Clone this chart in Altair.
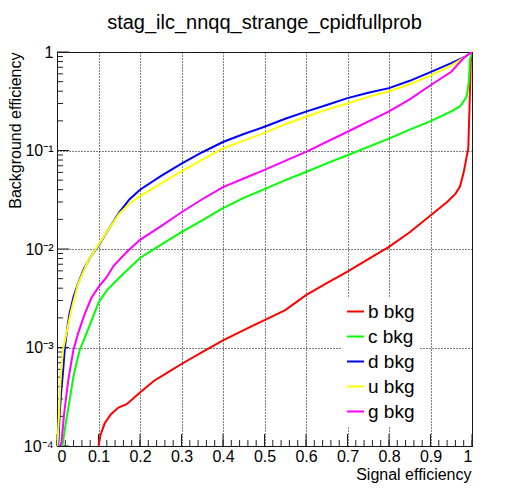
import altair as alt
import pandas as pd

# ---- data (signal efficiency vs background efficiency) ----
series_names = ["b bkg", "c bkg", "d bkg", "u bkg", "g bkg"]
series_colors = ["#ff0000", "#00ff00", "#0000ff", "#ffff00", "#ff00ff"]

b_x = [0.1, 0.105, 0.115, 0.13, 0.148, 0.168, 0.2, 0.234, 0.27, 0.3, 0.354, 0.4, 0.45, 0.5,
       0.55, 0.6, 0.65, 0.7, 0.75, 0.8, 0.85, 0.9, 0.94, 0.96, 0.971, 0.98, 0.987, 0.991,
       0.994, 0.997, 1.0]
b_y = [0.0001, 0.00013, 0.00017, 0.00021, 0.000246, 0.000266, 0.00035, 0.00046, 0.00057,
       0.00068, 0.00092, 0.00118, 0.0015, 0.0019, 0.0024, 0.0034, 0.0045, 0.0059, 0.0079,
       0.0105, 0.0148, 0.0219, 0.030, 0.0363, 0.043, 0.060, 0.086, 0.105, 0.27, 0.8, 1.0]

c_x = [0.013, 0.017, 0.022, 0.027, 0.033, 0.039, 0.047, 0.055, 0.067, 0.083, 0.1, 0.12, 0.15,
       0.2, 0.25, 0.3, 0.35, 0.4, 0.45, 0.5, 0.55, 0.6, 0.65, 0.7, 0.75, 0.8, 0.85, 0.9, 0.93,
       0.95, 0.971, 0.987, 0.9925, 0.995, 0.998, 1.0]
c_y = [0.0001, 0.00013, 0.00018, 0.00024, 0.00034, 0.00049, 0.0007, 0.00095, 0.00126,
       0.00186, 0.00285, 0.0038, 0.0051, 0.0081, 0.011, 0.0148, 0.0195, 0.026, 0.033, 0.0405,
       0.05, 0.0605, 0.074, 0.0895, 0.109, 0.132, 0.163, 0.199, 0.227, 0.25, 0.28, 0.35,
       0.50, 0.83, 0.93, 1.0]

d_x = [0.003, 0.006, 0.01, 0.015, 0.019, 0.025, 0.03, 0.04, 0.05, 0.065, 0.08, 0.1, 0.125,
       0.15, 0.175, 0.2, 0.25, 0.3, 0.35, 0.4, 0.45, 0.5, 0.55, 0.6, 0.65, 0.7, 0.75, 0.8,
       0.85, 0.9, 0.95, 0.98, 1.0]
d_y = [0.0001, 0.0002, 0.00035, 0.0006, 0.001, 0.0016, 0.0022, 0.0033, 0.0044, 0.0063,
       0.0082, 0.0108, 0.016, 0.0236, 0.032, 0.040, 0.055, 0.0737, 0.096, 0.122, 0.147,
       0.174, 0.21, 0.248, 0.29, 0.34, 0.385, 0.43, 0.51, 0.625, 0.77, 0.88, 1.0]

u_x = [0.001, 0.004, 0.0085, 0.014, 0.022, 0.034, 0.0506, 0.075, 0.1, 0.125, 0.15, 0.175,
       0.2, 0.25, 0.3, 0.35, 0.4, 0.45, 0.5, 0.55, 0.6, 0.65, 0.7, 0.75, 0.8, 0.85, 0.9,
       0.95, 0.98, 1.0]
u_y = [0.0001, 0.00018, 0.00046, 0.00092, 0.00135, 0.00235, 0.0044, 0.0076, 0.011, 0.016,
       0.0228, 0.029, 0.0344, 0.046, 0.0615, 0.081, 0.105, 0.126, 0.151, 0.185, 0.22, 0.26,
       0.30, 0.35, 0.40, 0.47, 0.577, 0.73, 0.87, 1.0]

g_x = [0.008, 0.011, 0.017, 0.027, 0.039, 0.051, 0.067, 0.083, 0.1, 0.12, 0.137, 0.17, 0.2,
       0.25, 0.3, 0.35, 0.4, 0.45, 0.5, 0.6, 0.7, 0.8, 0.85, 0.9, 0.95, 0.98, 1.0]
g_y = [0.0001, 0.00011, 0.00021, 0.00046, 0.00092, 0.0014, 0.0022, 0.0032, 0.0041, 0.0052,
       0.0068, 0.0095, 0.0124, 0.017, 0.0236, 0.032, 0.0425, 0.052, 0.0635, 0.097, 0.155,
       0.25, 0.33, 0.46, 0.63, 0.87, 1.0]

# tick positions
x_major = [0.0, 0.1, 0.2, 0.3, 0.4, 0.5, 0.6, 0.7, 0.8, 0.9, 1.0]
x_minor = [round(i * 0.02, 2) for i in range(51)]
y_major = [0.0001, 0.001, 0.01, 0.1, 1.0]
y_minor = [m * 10.0 ** k for k in (-4, -3, -2, -1) for m in range(2, 10)]

rows = []
for name, xs, ys in zip(series_names, [b_x, c_x, d_x, u_x, g_x], [b_y, c_y, d_y, u_y, g_y]):
    for xv, yv in zip(xs, ys):
        rows.append({"series": name, "sig": xv, "bkg": yv})
df = pd.DataFrame(rows)

W, H = 415, 394
FONT = "Liberation Sans"
xscale = alt.Scale(domain=[0, 1], nice=False, zero=False)
yscale = alt.Scale(type="log", domain=[0.0001, 1], nice=False)
cscale = alt.Scale(domain=series_names, range=series_colors)

x_axis = alt.Axis(values=x_major, format="~g", labelFontSize=16, labelPadding=2,
                  ticks=False, domain=False, grid=True, gridDash=[1, 2], gridColor="#000",
                  gridWidth=1, labelColor="#000", title="Signal efficiency", titleFontSize=16,
                  titleFontWeight="normal", titleColor="#000", titleAnchor="end",
                  titleAlign="right", titleBaseline="alphabetic", titleX=W - 1, titleY=33)
y_axis = alt.Axis(values=y_major,
                  labelExpr="round(log(datum.value)/LN10) == 0 ? '1' : '10' + ['', '\u207b\u00b9', '\u207b\u00b2', '\u207b\u00b3', '\u207b\u2074'][-round(log(datum.value)/LN10)]",
                  labelFontSize=16, labelPadding=4, ticks=False, domain=False, grid=True,
                  gridDash=[1, 2], gridColor="#000", gridWidth=1, labelColor="#000",
                  title="Background efficiency", titleFontSize=16, titleFontWeight="normal",
                  titleColor="#000", titleAngle=270, titleAlign="right",
                  titleBaseline="alphabetic", titleX=-37, titleY=0)

legend = alt.Legend(title=None, orient="none", legendX=285, legendY=246, fillColor="white",
                    padding=4, symbolType="stroke", symbolStrokeWidth=2, symbolSize=289,
                    labelFontSize=19, labelFont=FONT, labelColor="#000", rowPadding=5,
                    labelOffset=3)

layers = []
for i, name in enumerate(series_names):
    layers.append(
        alt.Chart(df).transform_filter(alt.datum.series == name)
        .mark_line(strokeWidth=2, clip=True)
        .encode(
            x=alt.X("sig:Q", scale=xscale, axis=x_axis),
            y=alt.Y("bkg:Q", scale=yscale, axis=y_axis),
            color=alt.Color("series:N", scale=cscale, legend=legend),
        )
    )

tick_color = "#222"
xminor_layer = alt.Chart(pd.DataFrame({"v": x_minor})).mark_rule(color=tick_color, strokeWidth=1).encode(
    x=alt.X("v:Q", scale=xscale, axis=x_axis), y=alt.value(H), y2=alt.value(H - 6))
xmajor_layer = alt.Chart(pd.DataFrame({"v": x_major})).mark_rule(color=tick_color, strokeWidth=1).encode(
    x=alt.X("v:Q", scale=xscale, axis=x_axis), y=alt.value(H), y2=alt.value(H - 12))
yminor_layer = alt.Chart(pd.DataFrame({"v": y_minor})).mark_rule(color=tick_color, strokeWidth=1).encode(
    y=alt.Y("v:Q", scale=yscale, axis=y_axis), x=alt.value(0), x2=alt.value(6))
ymajor_layer = alt.Chart(pd.DataFrame({"v": y_major})).mark_rule(color=tick_color, strokeWidth=1).encode(
    y=alt.Y("v:Q", scale=yscale, axis=y_axis), x=alt.value(0), x2=alt.value(12))

chart = alt.layer(xminor_layer, xmajor_layer, yminor_layer, ymajor_layer, *layers).properties(
    width=W, height=H,
    title=alt.TitleParams(text="stag_ilc_nnqq_strange_cpidfullprob", fontSize=20,
                          fontWeight="normal", anchor="middle", baseline="alphabetic",
                          offset=14, dy=19, color="#000", font=FONT),
    padding={"left": 57, "top": 52, "right": 46, "bottom": 49},
    autosize=alt.AutoSizeParams(type="none"),
    background="white",
).configure_view(stroke="#222", strokeWidth=1).configure_axis(
    labelFont=FONT, titleFont=FONT
).configure_legend(labelFont=FONT)

chart.save("out.html", embed_options={"renderer": "svg", "actions": False})
